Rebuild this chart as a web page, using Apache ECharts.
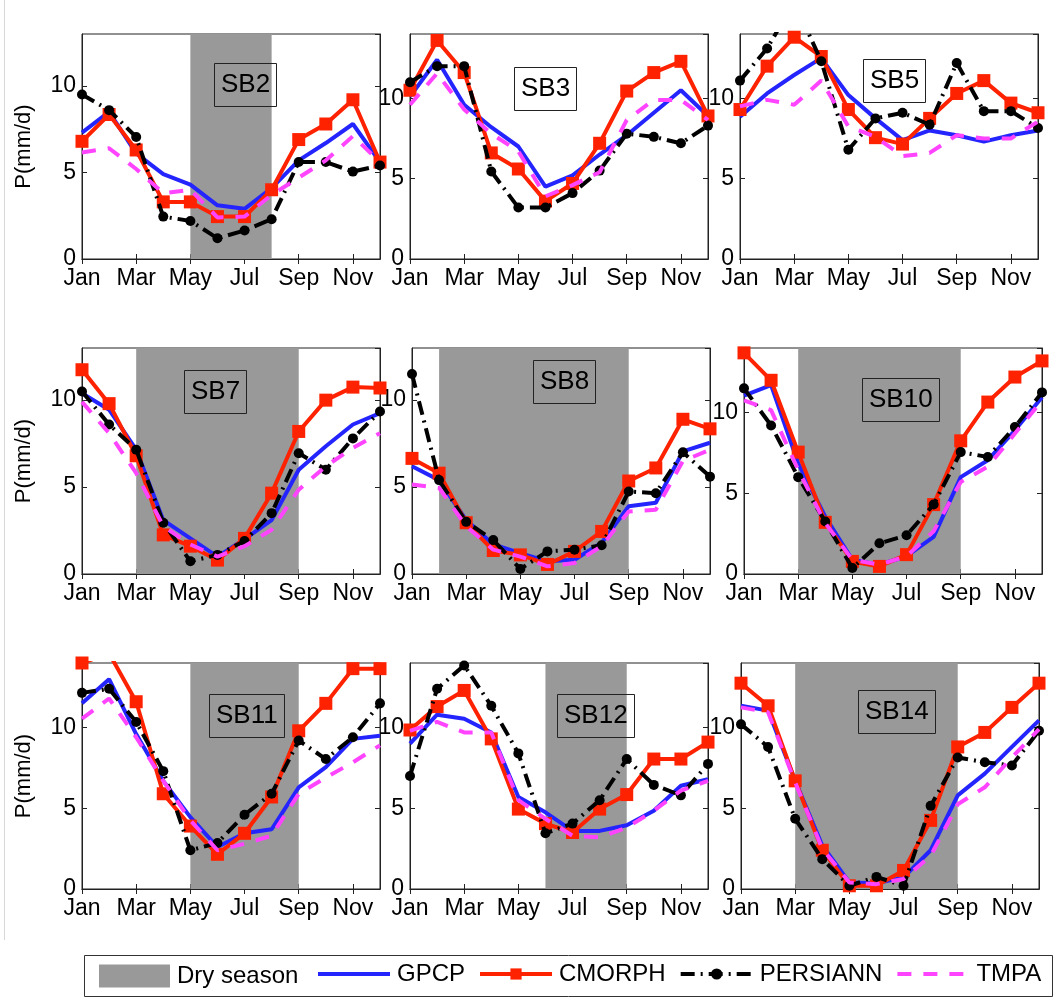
<!DOCTYPE html>
<html>
<head>
<meta charset="utf-8">
<title>Monthly precipitation by sub-basin</title>
<script src="https://cdn.jsdelivr.net/npm/echarts@6/dist/echarts.min.js"></script>
<style>
  html, body { margin: 0; padding: 0; background: #fff; }
  #main { width: 1061px; height: 998px; }
</style>
</head>
<body>
<div id="main"></div>
<script>
// data
var months = ['Jan', 'Feb', 'Mar', 'Apr', 'May', 'Jun', 'Jul', 'Aug', 'Sep', 'Oct', 'Nov', 'Dec'];
var basins = ['SB2', 'SB3', 'SB5', 'SB7', 'SB8', 'SB10', 'SB11', 'SB12', 'SB14'];
var yMax = [13, 14, 14, 13, 13, 14, 14, 14, 14];
var dryStart = ['May', null, null, 'Mar', 'Feb', 'Mar', 'May', 'Jun', 'Mar'];
var dryEnd = ['Aug', null, null, 'Sep', 'Sep', 'Sep', 'Sep', 'Sep', 'Sep'];

var gpcp = [
  [7.3, 8.5, 6.1, 4.9, 4.3, 3.1, 2.9, 4.1, 5.7, 6.7, 7.8, 5.6],
  [10.1, 12.4, 9.6, 8.2, 7.0, 4.5, 5.2, 6.5, 7.7, 9.1, 10.5, 8.9],
  [8.85, 10.3, 11.45, 12.5, 10.2, 8.75, 7.4, 8.0, 7.7, 7.3, 7.7, 8.0],
  [10.4, 9.45, 7.15, 3.1, 2.05, 1.0, 2.0, 3.1, 6.0, 7.35, 8.6, 9.25],
  [6.2, 5.4, 3.1, 1.7, 1.2, 0.73, 0.82, 1.8, 3.9, 4.1, 7.05, 7.55],
  [11.05, 11.7, 6.85, 3.55, 0.88, 0.58, 1.1, 2.3, 6.0, 7.05, 8.9, 10.95],
  [11.5, 13.0, 9.6, 6.7, 4.45, 2.6, 3.45, 3.7, 6.3, 7.55, 9.3, 9.5],
  [9.0, 10.8, 10.55, 9.7, 5.7, 4.75, 3.6, 3.6, 3.95, 4.85, 6.4, 6.8],
  [11.35, 11.05, 6.7, 2.7, 0.41, 0.35, 0.72, 2.4, 5.8, 7.15, 8.8, 10.45]
];
var cmorph = [
  [6.8, 8.35, 6.3, 3.3, 3.3, 2.45, 2.45, 4.0, 6.9, 7.8, 9.2, 5.6],
  [10.5, 13.6, 11.6, 6.6, 5.6, 3.6, 4.7, 7.2, 10.45, 11.6, 12.3, 8.9],
  [9.3, 12.0, 13.8, 12.6, 9.3, 7.55, 7.15, 8.75, 10.3, 11.1, 9.7, 9.1],
  [11.75, 9.8, 6.8, 2.25, 1.6, 0.8, 2.05, 4.65, 8.2, 10.0, 10.75, 10.7],
  [6.65, 5.8, 2.95, 1.35, 1.1, 0.55, 1.3, 2.45, 5.35, 6.1, 8.9, 8.35],
  [13.7, 12.0, 7.55, 3.2, 0.78, 0.47, 1.2, 4.3, 8.25, 10.65, 12.2, 13.2],
  [14.0, 14.6, 11.6, 5.9, 3.9, 2.15, 3.45, 5.7, 9.8, 11.5, 13.65, 13.65],
  [9.85, 11.3, 12.3, 9.3, 4.95, 4.05, 3.5, 4.95, 5.85, 8.05, 8.05, 9.1],
  [12.75, 11.35, 6.7, 2.4, 0.2, 0.2, 1.15, 4.25, 8.8, 9.7, 11.25, 12.75]
];
var persiann = [
  [9.5, 8.6, 7.05, 2.45, 2.2, 1.2, 1.65, 2.3, 5.6, 5.6, 5.05, 5.4],
  [11.0, 12.0, 12.0, 5.45, 3.2, 3.2, 4.1, 5.5, 7.8, 7.6, 7.2, 8.3],
  [11.1, 13.1, 16.0, 12.3, 6.8, 8.75, 9.1, 8.35, 12.2, 9.2, 9.2, 8.15],
  [10.5, 8.6, 7.15, 2.95, 0.73, 1.1, 1.9, 3.5, 6.95, 6.0, 7.8, 9.35],
  [11.5, 5.4, 3.0, 1.95, 0.29, 1.3, 1.4, 1.65, 4.75, 4.65, 7.0, 5.6],
  [11.5, 9.2, 6.0, 3.25, 0.37, 1.9, 2.4, 4.3, 7.55, 7.25, 9.1, 11.25],
  [12.15, 12.4, 10.35, 7.3, 2.4, 2.85, 4.6, 5.9, 9.2, 8.05, 9.4, 11.5],
  [7.0, 12.4, 13.85, 11.35, 8.4, 3.45, 4.05, 5.5, 8.05, 6.45, 5.8, 7.75],
  [10.2, 8.8, 4.35, 1.85, 0.2, 0.75, 0.2, 5.15, 8.15, 7.85, 7.65, 9.8]
];
var tmpa = [
  [6.15, 6.4, 5.2, 3.8, 4.0, 2.4, 2.45, 3.7, 4.7, 5.7, 7.1, 5.6],
  [9.6, 11.55, 9.3, 7.8, 6.7, 3.9, 4.6, 5.4, 8.65, 9.9, 9.9, 8.65],
  [9.5, 9.9, 9.6, 11.1, 8.25, 7.6, 6.4, 6.6, 7.7, 7.5, 7.5, 8.55],
  [9.9, 8.1, 5.8, 2.75, 1.7, 1.0, 1.6, 2.55, 4.85, 6.2, 7.25, 8.1],
  [5.15, 4.95, 2.75, 1.4, 1.0, 0.44, 0.63, 1.6, 3.6, 3.7, 6.5, 7.15],
  [10.75, 10.15, 6.45, 3.15, 0.88, 0.58, 1.1, 2.65, 5.7, 6.65, 8.7, 10.75],
  [10.55, 11.8, 9.4, 6.7, 4.25, 2.4, 2.8, 3.3, 5.9, 6.9, 7.85, 8.9],
  [9.8, 10.35, 9.7, 9.7, 5.5, 4.35, 3.3, 3.2, 3.8, 4.85, 6.1, 6.7],
  [11.25, 10.95, 6.6, 2.5, 0.41, 0.3, 0.62, 2.05, 5.25, 6.3, 8.15, 9.9]
];

// layout of the 3x3 panels
var rowTop = [34, 348, 663];
var rowHeight = [225, 226, 226];
var colLeft = [[82, 410, 740], [82, 412, 744], [82, 410, 741]];
var panelWidth = 298;
var labelPos = [[214, 63], [514, 67], [863, 59], [184, 370], [533, 360], [862, 378], [209, 694], [557, 694], [858, 690]];

var fontFamily = 'Liberation Sans, Arial, Helvetica, sans-serif';
var dryColor = '#999999';
var noDot = { color: 'rgba(0,0,0,0)', borderWidth: 0 };

var myChart = echarts.init(document.getElementById('main'));

var grids = [], xAxes = [], yAxes = [], series = [], titles = [];

for (var i = 0; i < basins.length; i++) {
  var r = Math.floor(i / 3), c = i % 3;
  grids.push({
    left: colLeft[r][c], top: rowTop[r], width: panelWidth, height: rowHeight[r],
    show: true, borderColor: '#222', borderWidth: 1, backgroundColor: 'transparent'
  });

  // bottom axis with labels, top axis only for ticks
  xAxes.push({
    type: 'category', gridIndex: i, data: months, boundaryGap: false, position: 'bottom',
    axisLine: { show: true, lineStyle: { color: '#222', width: 1 } },
    axisTick: { show: true, inside: true, length: 5, interval: 1, lineStyle: { color: '#222' } },
    axisLabel: { show: true, interval: 1, color: '#000', fontSize: 23, fontFamily: fontFamily, margin: 8 },
    splitLine: { show: false }
  });
  xAxes.push({
    type: 'category', gridIndex: i, data: months, boundaryGap: false, position: 'top',
    axisLine: { show: true, lineStyle: { color: '#222', width: 1 } },
    axisTick: { show: true, inside: true, length: 5, interval: 1, lineStyle: { color: '#222' } },
    axisLabel: { show: false },
    splitLine: { show: false }
  });

  var yLeft = {
    type: 'value', gridIndex: i, min: 0, max: yMax[i], interval: 5, position: 'left',
    axisLine: { show: true, lineStyle: { color: '#222', width: 1 } },
    axisTick: { show: true, inside: true, length: 5, lineStyle: { color: '#222' } },
    axisLabel: { show: true, color: '#000', fontSize: 23, fontFamily: fontFamily, margin: 6, showMaxLabel: false },
    splitLine: { show: false }
  };
  if (c === 0) {
    yLeft.name = 'P(mm/d)';
    yLeft.nameLocation = 'middle';
    yLeft.nameGap = 47;
    yLeft.nameTextStyle = { color: '#000', fontSize: 22, fontFamily: fontFamily };
  }
  yAxes.push(yLeft);
  yAxes.push({
    type: 'value', gridIndex: i, min: 0, max: yMax[i], interval: 5, position: 'right',
    axisLine: { show: true, lineStyle: { color: '#222', width: 1 } },
    axisTick: { show: true, inside: true, length: 5, lineStyle: { color: '#222' } },
    axisLabel: { show: false },
    splitLine: { show: false }
  });

  var xi = 2 * i, yi = 2 * i;

  // dry season shading
  series.push({
    name: 'Dry season', type: 'line', xAxisIndex: xi, yAxisIndex: yi, data: [], z: 1,
    itemStyle: { color: dryColor },
    markArea: dryStart[i] ? {
      silent: true,
      itemStyle: { color: dryColor, opacity: 1 },
      data: [[{ xAxis: dryStart[i] }, { xAxis: dryEnd[i] }]]
    } : undefined
  });

  series.push({
    name: 'GPCP', type: 'line', xAxisIndex: xi, yAxisIndex: yi, data: gpcp[i], z: 2,
    symbol: 'none', clip: true,
    itemStyle: { color: '#2424ff' },
    lineStyle: { color: '#2424ff', width: 4 }
  });
  series.push({
    name: 'CMORPH', type: 'line', xAxisIndex: xi, yAxisIndex: yi, data: cmorph[i], z: 3,
    symbol: 'rect', symbolSize: 13, clip: true,
    itemStyle: { color: '#ff2200' },
    lineStyle: { color: '#ff2200', width: 4 }
  });
  series.push({
    name: 'PERSIANN', type: 'line', xAxisIndex: xi, yAxisIndex: yi, data: persiann[i], z: 4,
    symbol: 'circle', symbolSize: 10, clip: true,
    itemStyle: { color: '#000' },
    lineStyle: { color: '#000', width: 4, type: [14, 6, 2, 6] }
  });
  series.push({
    name: 'TMPA', type: 'line', xAxisIndex: xi, yAxisIndex: yi, data: tmpa[i], z: 5,
    symbol: 'none', clip: true,
    itemStyle: { color: '#ff44ff' },
    lineStyle: { color: '#ff44ff', width: 4, type: [14, 12] }
  });

  // basin label box
  titles.push({
    text: basins[i], left: labelPos[i][0], top: labelPos[i][1],
    borderWidth: 1, borderColor: '#222', padding: [9, 7],
    backgroundColor: 'transparent',
    textStyle: { color: '#000', fontSize: 26, fontWeight: 'normal', fontFamily: fontFamily }
  });
}

var legendText = { color: '#000', fontSize: 24, fontFamily: fontFamily, padding: [0, 0, 0, 2] };

myChart.setOption({
  backgroundColor: '#fff',
  animation: false,
  title: titles,
  grid: grids,
  xAxis: xAxes,
  yAxis: yAxes,
  legend: [{
    left: 99, top: 964, padding: 0,
    itemWidth: 71, itemHeight: 23,
    textStyle: legendText,
    data: [{ name: 'Dry season', icon: 'rect', itemStyle: { color: dryColor } }]
  }, {
    left: 316, top: 962, padding: 0,
    itemWidth: 72, itemHeight: 14, itemGap: 13,
    textStyle: legendText,
    data: [
      { name: 'GPCP', itemStyle: noDot, lineStyle: { width: 4 } },
      { name: 'CMORPH', lineStyle: { width: 4 } },
      { name: 'PERSIANN', lineStyle: { width: 4 } },
      { name: 'TMPA', itemStyle: noDot, lineStyle: { width: 4 } }
    ]
  }],
  graphic: [{
    type: 'rect', shape: { x: 84.5, y: 955.5, width: 968, height: 41 },
    style: { fill: 'none', stroke: '#333', lineWidth: 1 }, silent: true
  }, {
    type: 'line', shape: { x1: 4.5, y1: 0, x2: 4.5, y2: 940 },
    style: { stroke: '#d8d8d8', lineWidth: 1 }, silent: true
  }],
  series: series
});
</script>
</body>
</html>
